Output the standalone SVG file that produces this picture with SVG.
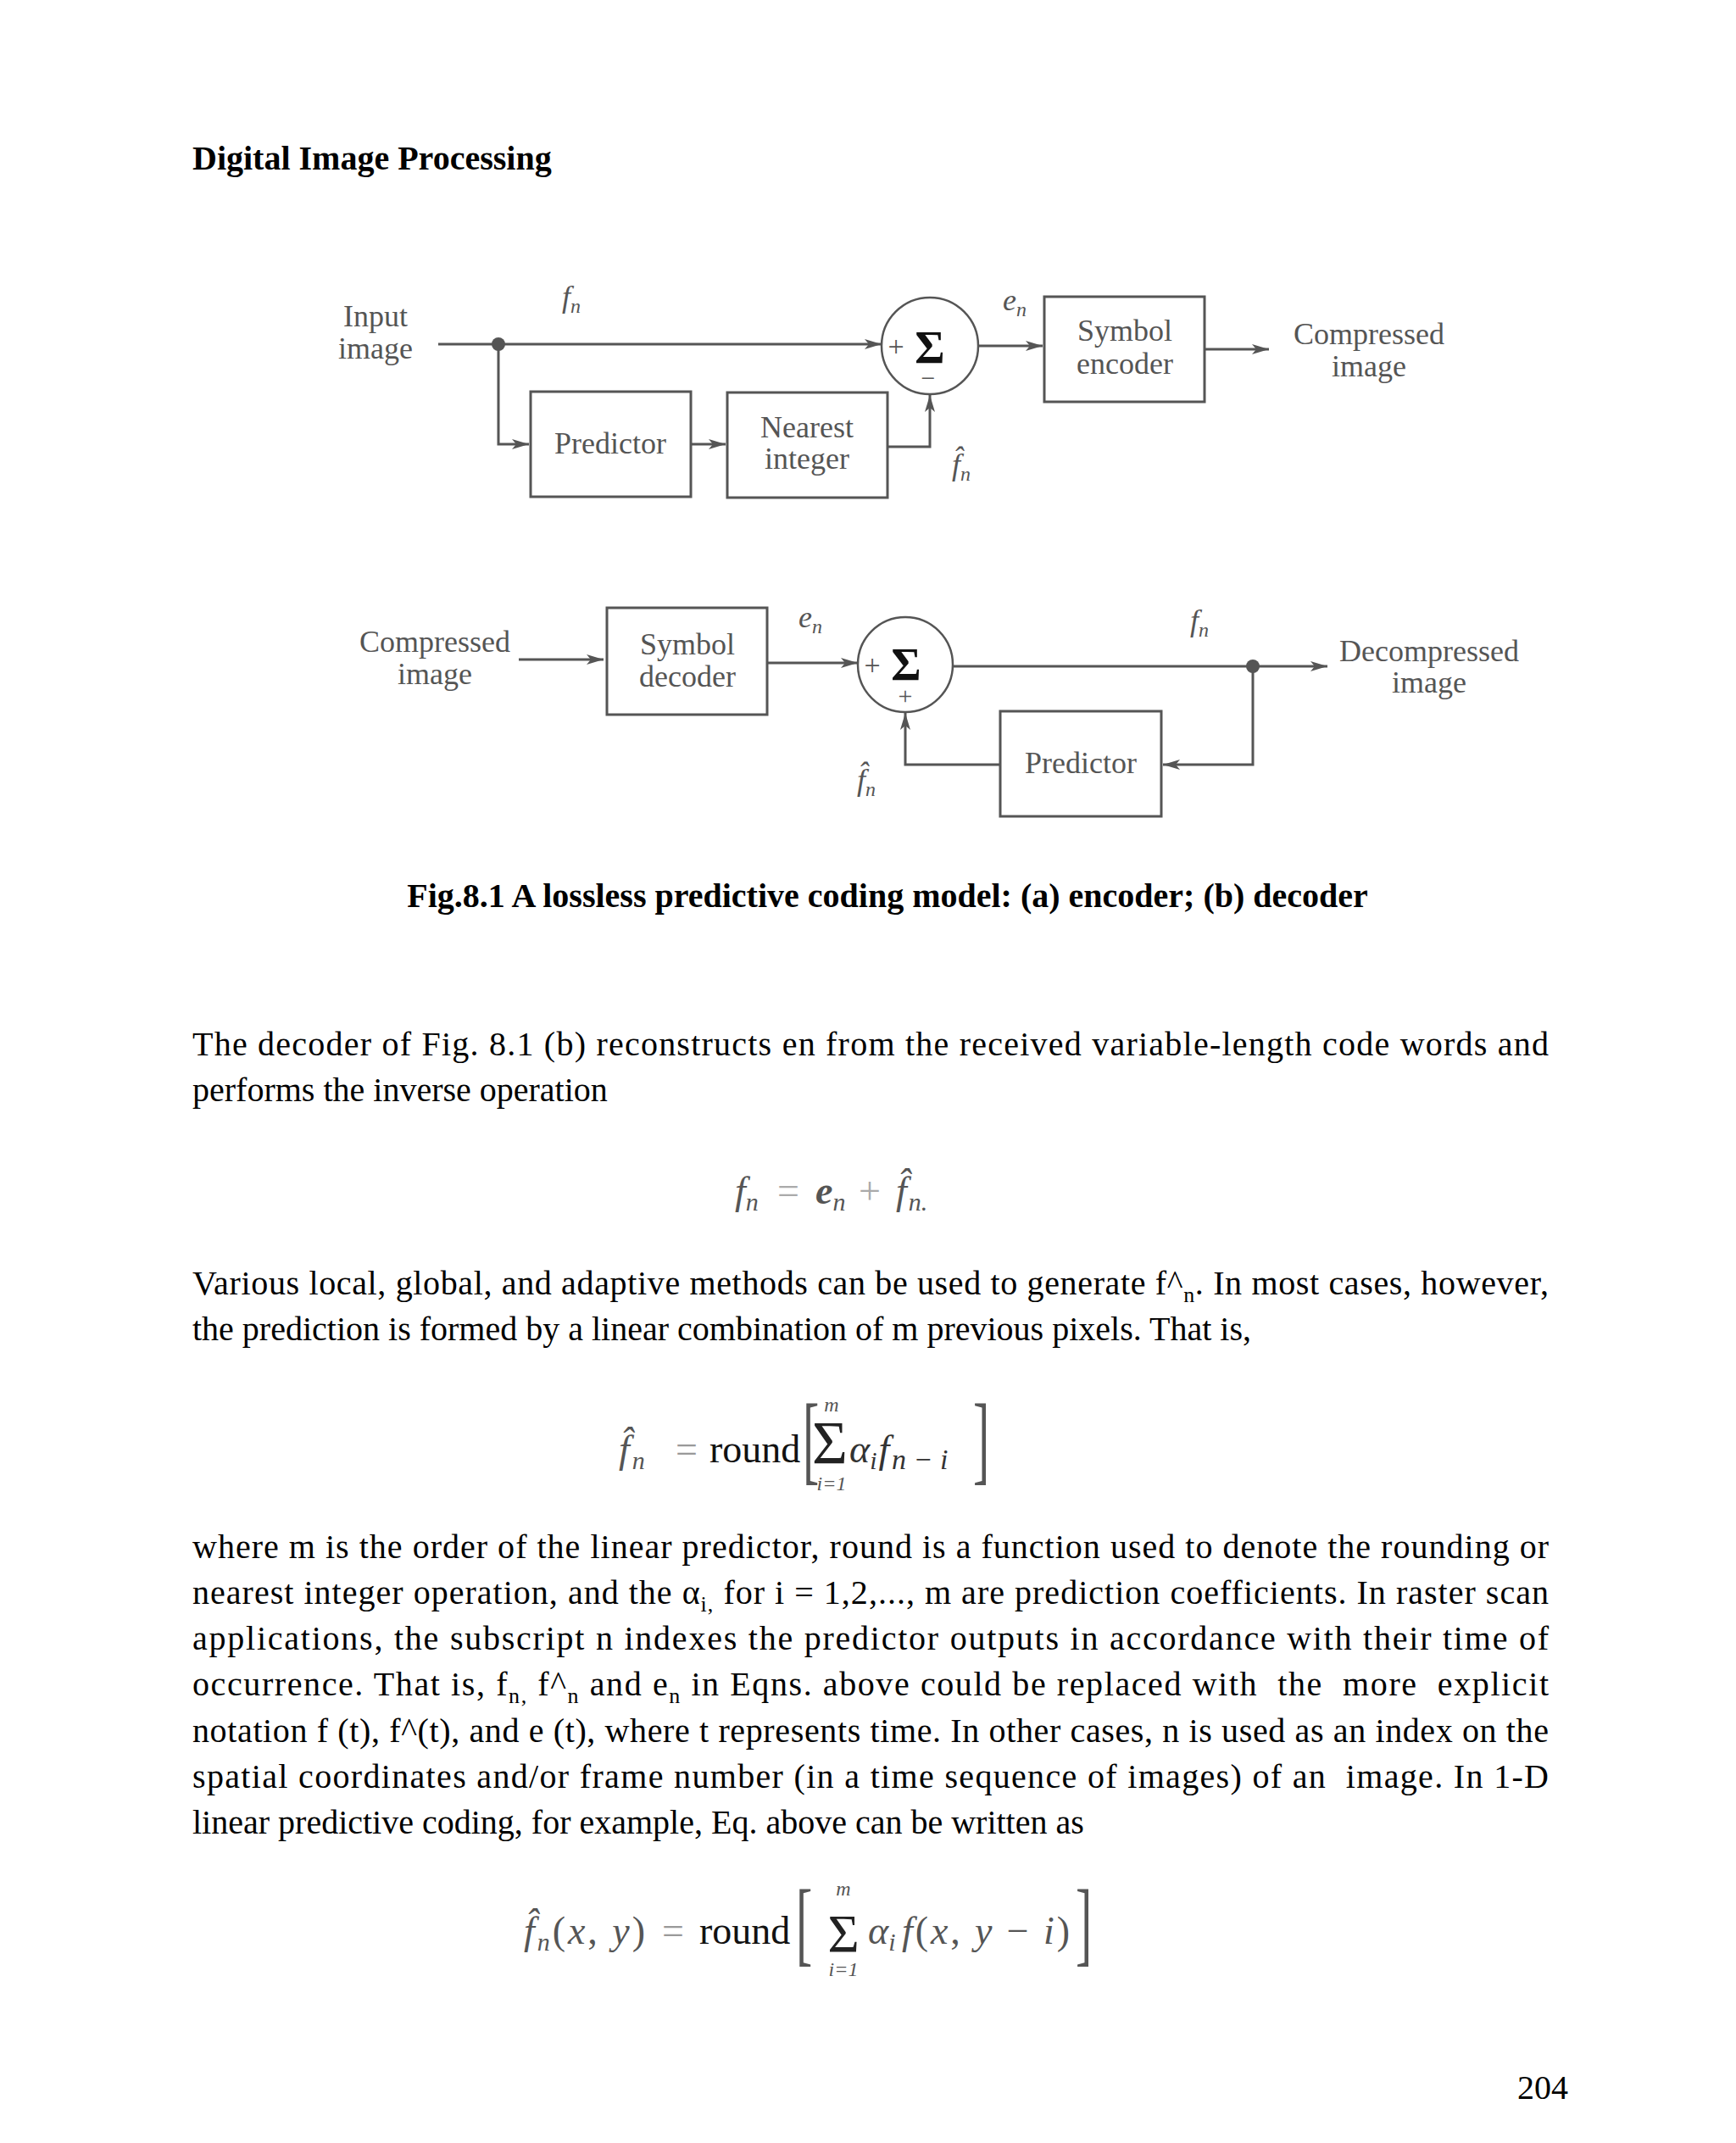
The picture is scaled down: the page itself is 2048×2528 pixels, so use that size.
<svg xmlns="http://www.w3.org/2000/svg" width="2048" height="2528" viewBox="0 0 2048 2528">
<defs>
<style>
.lbl{font-family:"Liberation Serif","Times New Roman",serif;font-size:36px;fill:#555;text-anchor:middle}
.var{font-family:"Liberation Serif","Times New Roman",serif;font-style:italic;font-size:36px;fill:#555}
.sym{font-family:"Liberation Serif","Times New Roman",serif;fill:#555}
.sig{font-family:"Liberation Serif","Times New Roman",serif;font-size:54px;font-weight:bold;fill:#111;text-anchor:middle}
.box{fill:none;stroke:#555;stroke-width:3}
.wire{fill:none;stroke:#555;stroke-width:3}
.arr{marker-end:url(#ah)}
.body{font-family:"Liberation Serif","Times New Roman",serif;font-size:40px;fill:#000}
.bold{font-family:"Liberation Serif","Times New Roman",serif;font-size:40px;font-weight:bold;fill:#000}
.eq{font-family:"Liberation Serif","Times New Roman",serif;fill:#555}
.it{font-style:italic}
.rnd{font-family:"Liberation Serif","Times New Roman",serif;font-size:46px;fill:#111}
</style>
<marker id="ah" viewBox="0 0 20 12" refX="20" refY="6" markerWidth="20" markerHeight="12" markerUnits="userSpaceOnUse" orient="auto">
<path d="M0,0 L20,6 L0,12 L5,6 z" fill="#555"/>
</marker>
</defs>
<rect width="2048" height="2528" fill="#fff"/>

<text class="bold" x="227" y="200">Digital Image Processing</text>

<g id="connectors">
<line class="wire arr" x1="517" y1="406" x2="1040" y2="406"/>
<polyline class="wire arr" points="588,406 588,524 624,524"/>
<line class="wire arr" x1="815" y1="524" x2="856" y2="524"/>
<polyline class="wire arr" points="1047,527 1097,527 1097,466"/>
<line class="wire arr" x1="1154" y1="408" x2="1230" y2="408"/>
<line class="wire arr" x1="1421" y1="412" x2="1497" y2="412"/>
<line class="wire arr" x1="612" y1="778" x2="712" y2="778"/>
<line class="wire arr" x1="905" y1="782" x2="1012" y2="782"/>
<line class="wire arr" x1="1124" y1="786" x2="1566" y2="786"/>
<polyline class="wire arr" points="1478,786 1478,902 1372,902"/>
<polyline class="wire arr" points="1180,902 1068,902 1068,841"/>
<circle cx="588" cy="406" r="8" fill="#555"/>
<circle cx="1478" cy="786" r="8" fill="#555"/>
</g>

<!-- Encoder -->
<g id="input-label">
<text class="lbl" x="443" y="385">Input</text>
<text class="lbl" x="443" y="423">image</text>
</g>
<g id="fn-enc">
<text class="var" x="663" y="362">f<tspan style="font-size:24px" dy="7">n</tspan></text>
</g>
<g id="predictor-enc">
<rect class="box" x="626" y="462" width="189" height="124"/>
<text class="lbl" x="720" y="535">Predictor</text>
</g>
<g id="nearest">
<rect class="box" x="858" y="463" width="189" height="124"/>
<text class="lbl" x="952" y="516">Nearest</text>
<text class="lbl" x="952" y="553">integer</text>
</g>
<g id="sum-enc">
<circle cx="1097" cy="408" r="57" fill="none" stroke="#555" stroke-width="2.5"/>
<text class="sym" x="1057" y="420" style="font-size:34px" text-anchor="middle">+</text>
<text class="sig" x="1097" y="428">Σ</text>
<text class="sym" x="1095" y="456" style="font-size:30px" text-anchor="middle">−</text>
</g>
<g id="fhat-enc">
<text class="var" x="1123" y="560">f̂<tspan style="font-size:24px" dy="7">n</tspan></text>
</g>
<g id="en-enc">
<text class="var" x="1183" y="366">e<tspan style="font-size:24px" dy="7">n</tspan></text>
</g>
<g id="symbol-encoder">
<rect class="box" x="1232" y="350" width="189" height="124"/>
<text class="lbl" x="1327" y="402">Symbol</text>
<text class="lbl" x="1327" y="441">encoder</text>
</g>
<g id="compressed-out">
<text class="lbl" x="1615" y="406">Compressed</text>
<text class="lbl" x="1615" y="444">image</text>
</g>

<!-- Decoder -->
<g id="compressed-in">
<text class="lbl" x="513" y="769">Compressed</text>
<text class="lbl" x="513" y="807">image</text>
</g>
<g id="symbol-decoder">
<rect class="box" x="716" y="717" width="189" height="126"/>
<text class="lbl" x="811" y="772">Symbol</text>
<text class="lbl" x="811" y="810">decoder</text>
</g>
<g id="en-dec">
<text class="var" x="942" y="740">e<tspan style="font-size:24px" dy="7">n</tspan></text>
</g>
<g id="sum-dec">
<circle cx="1068" cy="784" r="56" fill="none" stroke="#555" stroke-width="2.5"/>
<text class="sym" x="1029" y="796" style="font-size:34px" text-anchor="middle">+</text>
<text class="sig" x="1069" y="802">Σ</text>
<text class="sym" x="1068" y="831" style="font-size:30px" text-anchor="middle">+</text>
</g>
<g id="fhat-dec">
<text class="var" x="1011" y="932">f̂<tspan style="font-size:24px" dy="7">n</tspan></text>
</g>
<g id="fn-dec">
<text class="var" x="1404" y="744">f<tspan style="font-size:24px" dy="7">n</tspan></text>
</g>
<g id="predictor-dec">
<rect class="box" x="1180" y="839" width="190" height="124"/>
<text class="lbl" x="1275" y="912">Predictor</text>
</g>
<g id="decompressed-out">
<text class="lbl" x="1686" y="780">Decompressed</text>
<text class="lbl" x="1686" y="817">image</text>
</g>

<text class="bold" x="1047" y="1070" text-anchor="middle">Fig.8.1 A lossless predictive coding model: (a) encoder; (b) decoder</text>

<!-- Paragraph 1 -->
<text class="body" x="227" y="1245" textLength="1600" lengthAdjust="spacing">The decoder of Fig. 8.1 (b) reconstructs en from the received variable-length code words and</text>
<text class="body" x="227" y="1299">performs the inverse operation</text>

<!-- Equation 1 -->
<g id="eq1">
<text class="eq it" x="867" y="1420" style="font-size:46px">f<tspan style="font-size:30px" dy="8">n</tspan></text>
<text class="eq" x="917" y="1420" style="font-size:46px;fill:#aaa">=</text>
<text class="eq it" x="962" y="1420" style="font-size:46px;font-weight:bold">e<tspan style="font-size:30px;font-weight:normal" dy="8">n</tspan></text>
<text class="eq" x="1013" y="1420" style="font-size:46px;fill:#aaa">+</text>
<text class="eq it" x="1057" y="1420" style="font-size:46px">f̂<tspan style="font-size:30px" dx="2" dy="8">n.</tspan></text>
</g>

<!-- Paragraph 2 -->
<text class="body" x="227" y="1527" textLength="1600" lengthAdjust="spacing">Various local, global, and adaptive methods can be used to generate f^<tspan style="font-size:26px" dy="9">n</tspan><tspan dy="-9">. In most cases, however,</tspan></text>
<text class="body" x="227" y="1581">the prediction is formed by a linear combination of m previous pixels. That is,</text>

<!-- Equation 2 -->
<g id="eq2">
<text class="eq it" x="730" y="1725" style="font-size:46px">f̂<tspan style="font-size:30px" dx="3" dy="8">n</tspan></text>
<text class="eq" x="797" y="1725" style="font-size:46px;fill:#999">=</text>
<text class="rnd" x="837" y="1725">round</text>
<text class="eq" transform="translate(947,1736) scale(1,2)" x="0" y="0" style="font-size:58px">[</text>
<text class="eq" x="979" y="1726" style="font-size:72px;fill:#222" text-anchor="middle">Σ</text>
<text class="eq it" x="981" y="1665" style="font-size:24px" text-anchor="middle">m</text>
<text class="eq it" x="981" y="1758" style="font-size:24px" text-anchor="middle">i=1</text>
<text class="eq it" x="1002" y="1725" style="font-size:46px;fill:#333">α<tspan style="font-size:30px" dy="8">i</tspan><tspan dx="2" dy="-8">f</tspan></text>
<text class="eq it" x="1052" y="1733" style="font-size:34px;fill:#333">n − i</text>
<text class="eq" transform="translate(1148,1736) scale(1,2)" x="0" y="0" style="font-size:58px">]</text>
</g>

<!-- Paragraph 3 -->
<text class="body" x="227" y="1838" textLength="1600" lengthAdjust="spacing">where m is the order of the linear predictor, round is a function used to denote the rounding or</text>
<text class="body" x="227" y="1892" textLength="1600" lengthAdjust="spacing">nearest integer operation, and the α<tspan style="font-size:26px" dy="9">i,</tspan><tspan dy="-9">  for i = 1,2,..., m are prediction coefficients. In raster scan</tspan></text>
<text class="body" x="227" y="1946" textLength="1600" lengthAdjust="spacing">applications, the subscript n indexes the predictor outputs in accordance with their time of</text>
<text class="body" x="227" y="2000" textLength="1600" lengthAdjust="spacing" xml:space="preserve">occurrence. That is, f<tspan style="font-size:26px" dy="9">n,</tspan><tspan dy="-9"> f^</tspan><tspan style="font-size:26px" dy="9">n</tspan><tspan dy="-9"> and e</tspan><tspan style="font-size:26px" dy="9">n</tspan><tspan dy="-9"> in Eqns. above could be replaced with  the  more  explicit</tspan></text>
<text class="body" x="227" y="2055" textLength="1600" lengthAdjust="spacing">notation f (t), f^(t), and e (t), where t represents time. In other cases, n is used as an index on the</text>
<text class="body" x="227" y="2109" textLength="1600" lengthAdjust="spacing" xml:space="preserve">spatial coordinates and/or frame number (in a time sequence of images) of an  image. In 1-D</text>
<text class="body" x="227" y="2163">linear predictive coding, for example, Eq. above can be written as</text>

<!-- Equation 3 -->
<g id="eq3">
<text class="eq it" x="618" y="2293" style="font-size:46px" textLength="143" lengthAdjust="spacing">f̂<tspan style="font-size:30px" dy="8">n</tspan><tspan style="font-style:normal" dy="-8">(</tspan>x<tspan style="font-style:normal">, </tspan>y<tspan style="font-style:normal">)</tspan></text>
<text class="eq" x="781" y="2293" style="font-size:46px;fill:#999">=</text>
<text class="rnd" x="825" y="2293">round</text>
<text class="eq" transform="translate(939,2305) scale(1,1.9)" x="0" y="0" style="font-size:58px">[</text>
<text class="eq" x="995" y="2303" style="font-size:64px;fill:#222" text-anchor="middle">Σ</text>
<text class="eq it" x="995" y="2236" style="font-size:24px" text-anchor="middle">m</text>
<text class="eq it" x="995" y="2331" style="font-size:24px" text-anchor="middle">i=1</text>
<text class="eq it" x="1024" y="2293" style="font-size:46px">α<tspan style="font-size:30px" dy="8">i</tspan></text>
<text class="eq" x="1064" y="2293" style="font-size:46px" textLength="198" lengthAdjust="spacing"><tspan style="font-style:italic">f</tspan>(<tspan style="font-style:italic">x</tspan>, <tspan style="font-style:italic">y</tspan> − <tspan style="font-style:italic">i</tspan>)</text>
<text class="eq" transform="translate(1269,2305) scale(1,1.9)" x="0" y="0" style="font-size:58px">]</text>
</g>

<text class="body" x="1850" y="2476" text-anchor="end">204</text>
</svg>
